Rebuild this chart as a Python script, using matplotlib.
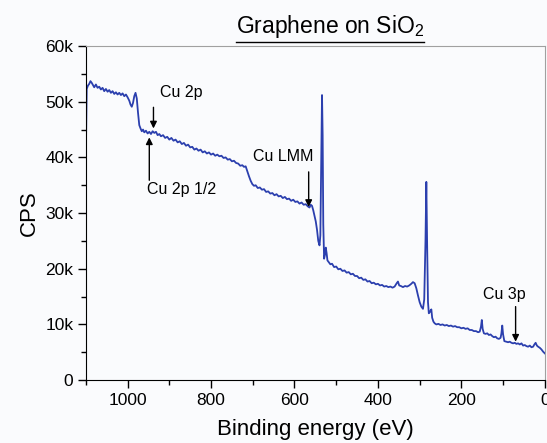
import matplotlib
matplotlib.use("Agg")
import matplotlib.pyplot as plt
from matplotlib.ticker import MultipleLocator

plt.rcParams['font.family'] = ['Liberation Sans', 'DejaVu Sans']
plt.rcParams['mathtext.fontset'] = 'custom'
plt.rcParams['mathtext.rm'] = 'Liberation Sans'

# binding energy (eV) and counts
binding_energy = [
    1100, 1098, 1095, 1092, 1089, 1086, 1083, 1080, 1076, 1072, 1068, 1064, 1060, 1056,
    1052, 1048, 1044, 1040, 1036, 1032, 1028, 1024, 1020, 1016, 1012, 1008, 1004, 1000,
    996, 993, 990, 987, 984, 981, 978, 975, 972, 969, 966, 963, 960, 956, 952, 948, 944,
    940, 936, 932, 928, 924, 920, 915, 910, 905, 900, 895, 890, 885, 880, 875, 870, 865,
    860, 855, 850, 845, 840, 835, 830, 825, 820, 815, 810, 805, 800, 795, 790, 785, 780,
    775, 770, 765, 760, 755, 750, 745, 740, 735, 730, 725, 721, 717, 713, 709, 705, 701,
    697, 693, 688, 683, 678, 673, 668, 663, 658, 653, 648, 643, 638, 633, 628, 623, 618,
    613, 608, 603, 598, 593, 588, 583, 578, 573, 568, 564, 561, 558, 555, 552, 549, 546,
    543, 540, 538, 536, 534, 532.5, 531, 529, 527, 525, 523, 521, 518, 514, 510, 505, 500,
    495, 490, 485, 480, 475, 470, 465, 460, 455, 450, 445, 440, 435, 430, 425, 420, 415,
    410, 405, 400, 395, 390, 385, 380, 375, 370, 365, 360, 355, 352, 349, 345, 340, 335,
    330, 325, 320, 316, 312, 308, 304, 300, 296, 292, 289, 286, 284, 282, 280, 278, 275,
    272, 270, 267, 264, 260, 255, 250, 245, 240, 235, 230, 225, 220, 215, 210, 205, 200,
    195, 190, 185, 180, 175, 170, 165, 160, 156, 153, 151, 149, 146, 142, 138, 134, 130,
    126, 122, 118, 114, 110, 106, 104, 102, 100, 97, 92, 88, 84, 80, 76, 72, 68, 64, 60,
    56, 52, 48, 44, 40, 36, 32, 28, 25, 22, 19, 16, 12, 8, 4, 0,
]
cps = [
    41000, 52300, 52900, 53200, 53700, 53400, 53000, 52600, 53100, 52500, 52700, 52200, 52500, 51900,
    52300, 51800, 52100, 51600, 51900, 51400, 51700, 51300, 51600, 51200, 51500, 51000, 51300, 50800,
    50200, 49500, 49100, 49800, 51000, 51600, 50600, 48000, 45800, 45200, 44700, 45000, 44500, 44800, 44300, 44600, 44200,
    44700, 44400, 44600, 44000, 44200, 43800, 44000, 43500, 43700, 43200, 43500, 43000, 43200, 42700, 42900, 42400, 42600,
    42100, 42300, 41800, 41900, 41400, 41600, 41200, 41400, 40900, 41100, 40700, 40900, 40500, 40700, 40300, 40500, 40200,
    40300, 39900, 40000, 39600, 39700, 39300, 39400, 39000, 38900, 38500, 38600, 38300, 38400, 37500, 36600, 35800, 35200,
    34900, 35000, 34500, 34600, 34200, 34300, 33800, 33900, 33500, 33600, 33200, 33400, 33000, 33100, 32700, 32900, 32500,
    32600, 32200, 32400, 32000, 32100, 31700, 31900, 31500, 31600, 31200, 31000, 31500, 31300, 30500, 29500, 28500, 27000,
    25000, 24200, 26000, 38000, 51200, 44000, 28000, 21800, 22500, 23800, 22800, 21500, 21200, 20800, 20900, 20300, 20400,
    19900, 20000, 19600, 19700, 19300, 19400, 19000, 19100, 18700, 18700, 18300, 18400, 18000, 18100, 17700, 17800, 17400,
    17500, 17200, 17300, 17000, 17100, 16800, 16900, 16700, 16800, 16600, 16800, 17400, 17700, 17000, 16900, 16700, 16900,
    16800, 17000, 17300, 17600, 17400, 16500, 15200, 14000, 13200, 12800, 14500, 25000, 35600, 24000, 14000, 12000, 12300,
    12700, 11200, 10500, 10200, 10000, 10100, 9900, 10000, 9800, 9900, 9700, 9800, 9600, 9700, 9500, 9500, 9300,
    9400, 9200, 9300, 9000, 9000, 8800, 8800, 8600, 8700, 9600, 10800, 9200, 8400, 8300, 8400, 8100, 8200,
    7900, 7700, 7800, 7500, 7400, 7600, 8400, 9800, 8200, 7000, 6900, 6800, 6900, 6700, 6600, 6700, 6500, 6600, 6400,
    6600, 6200, 6300, 6100, 6000, 6200, 5900, 6000, 6400, 6700, 6200, 6000, 5800, 5500, 5100, 4800,
]

x_ticks = [1000, 800, 600, 400, 200, 0]
x_tick_labels = ['1000', '800', '600', '400', '200', '0']
y_ticks = [0, 10000, 20000, 30000, 40000, 50000, 60000]
y_tick_labels = ['0', '10k', '20k', '30k', '40k', '50k', '60k']

# peak labels with their arrows
peak_labels = ['Cu 2p', 'Cu 2p 1/2', 'Cu LMM', 'Cu 3p']
label_x = [923, 954, 626, 96]
label_y = [51700, 34300, 40200, 15400]
label_ha = ['left', 'left', 'center', 'center']
arrow_x = [938, 948, 566, 70]
arrow_from = [49000, 35900, 37400, 13200]
arrow_to = [45200, 43600, 31100, 6900]

bg = '#fafbfd'
fig = plt.figure(figsize=(5.47, 4.43), dpi=100, facecolor=bg)
ax = fig.add_axes([0.157, 0.142, 0.839, 0.754], facecolor=bg)

ax.plot(binding_energy, cps, color='#2b3fae', lw=1.3)

ax.set_xlim(1100, 0)
ax.set_ylim(0, 60000)
ax.set_xticks(x_ticks)
ax.set_xticklabels(x_tick_labels)
ax.set_yticks(y_ticks)
ax.set_yticklabels(y_tick_labels)
ax.xaxis.set_minor_locator(MultipleLocator(100))
ax.yaxis.set_minor_locator(MultipleLocator(5000))
ax.tick_params(which='both', direction='out', labelsize=12.5, top=False, right=False, pad=3)
ax.tick_params(which='major', length=6, width=1)
ax.tick_params(which='minor', length=3.5, width=1)

for s in ['top', 'right']:
    ax.spines[s].set_color('#a0a0a0')
    ax.spines[s].set_linewidth(0.8)

ax.set_xlabel('Binding energy (eV)', fontsize=16, labelpad=8)
ax.set_ylabel('CPS', fontsize=16, labelpad=4)

for i in range(len(peak_labels)):
    ax.text(label_x[i], label_y[i], peak_labels[i], fontsize=11.5, ha=label_ha[i], va='center')
    ax.annotate('', xy=(arrow_x[i], arrow_to[i]), xytext=(arrow_x[i], arrow_from[i]),
                arrowprops=dict(arrowstyle='-|>', color='black', lw=1, mutation_scale=10,
                                shrinkA=0, shrinkB=0))

title = fig.text(0.603, 0.925, r'Graphene on SiO$\mathregular{_2}$', fontsize=16.5,
                 ha='center', va='baseline')
fig.canvas.draw()
bb = title.get_window_extent().transformed(fig.transFigure.inverted())
fig.add_artist(plt.Line2D([bb.x0, bb.x1], [0.906, 0.906], color='black', lw=1,
                          transform=fig.transFigure))

fig.savefig('out.png', dpi=100, facecolor=bg)
